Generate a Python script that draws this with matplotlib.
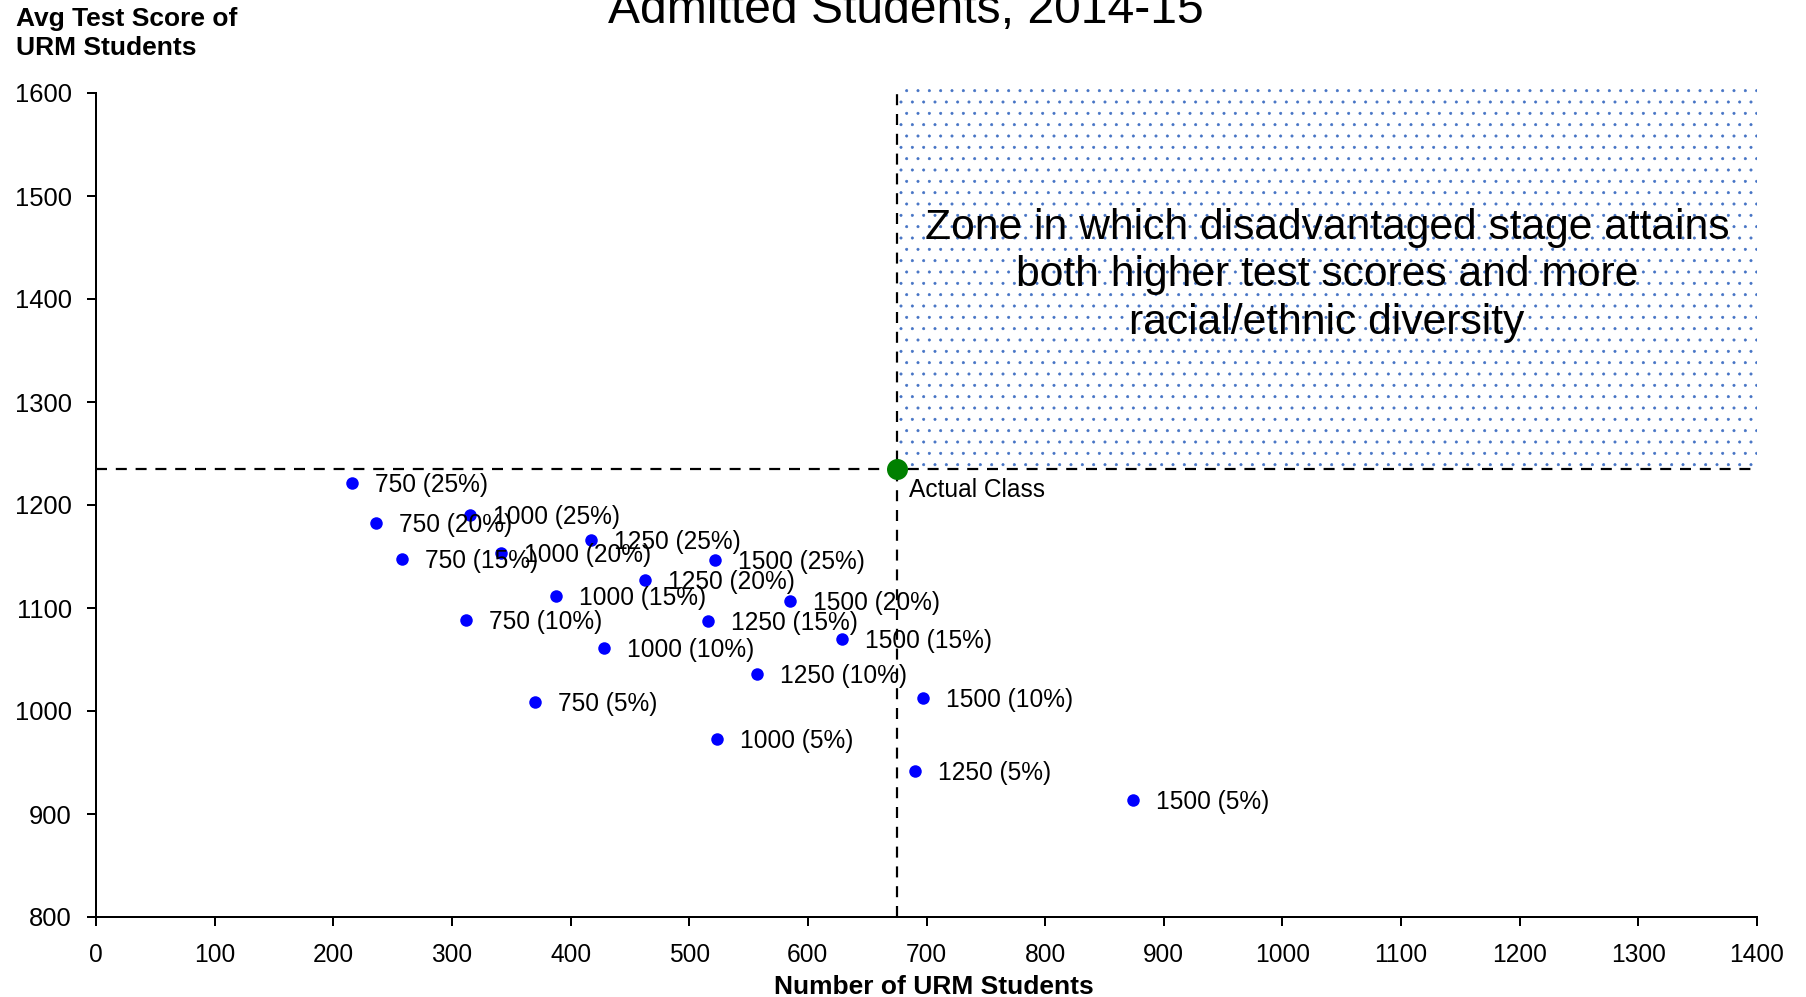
import matplotlib
matplotlib.use("Agg")
import matplotlib.pyplot as plt
from matplotlib.patches import Rectangle

DPI = 136
PX = 72.0 / DPI  # points per pixel

plt.rcParams["font.family"] = ["Liberation Sans", "DejaVu Sans"]
plt.rcParams["hatch.linewidth"] = 0.35

# Simulated admissions scenarios: class size and share reserved for the disadvantaged stage
class_sizes = [750, 750, 750, 750, 750,
               1000, 1000, 1000, 1000, 1000,
               1250, 1250, 1250, 1250, 1250,
               1500, 1500, 1500, 1500, 1500]
reserved_shares = [25, 20, 15, 10, 5,
                   25, 20, 15, 10, 5,
                   25, 20, 15, 10, 5,
                   25, 20, 15, 10, 5]
urm_counts = [216, 236, 258, 312, 370,
              315, 341, 388, 428, 523,
              417, 463, 516, 557, 690,
              522, 585, 629, 697, 874]
urm_scores = [1221, 1183, 1148, 1088, 1009,
              1190, 1153, 1112, 1061, 973,
              1166, 1127, 1087, 1036, 942,
              1147, 1107, 1070, 1013, 914]

actual_count = 675
actual_score = 1235

x_ticks = list(range(0, 1401, 100))
y_ticks = list(range(800, 1601, 100))

fig = plt.figure(figsize=(1806 / DPI, 997 / DPI), dpi=DPI)
ax = fig.add_axes([96 / 1806, 1 - 917 / 997, (1757 - 96) / 1806, (917 - 93) / 997])

ax.set_xlim(0, 1400)
ax.set_ylim(800, 1600)

# Zone above and to the right of the actual class
zone = Rectangle((actual_count, actual_score), 1400 - actual_count, 1606 - actual_score,
                 facecolor="none", edgecolor="#4472C4", linewidth=0, hatch="..",
                 zorder=0, clip_on=False)
ax.add_patch(zone)

dash = (0, (5, 4))
ax.plot([0, 1400], [actual_score, actual_score], color="black", lw=2.2 * PX,
        linestyle=dash, zorder=1)
ax.plot([actual_count, actual_count], [800, 1600], color="black", lw=2.2 * PX,
        linestyle=dash, zorder=1)

ax.scatter(urm_counts, urm_scores, s=(12.5 * PX) ** 2, color="#0000FF",
           linewidths=0, zorder=3)
for n, share, x, y in zip(class_sizes, reserved_shares, urm_counts, urm_scores):
    ax.annotate(f"{n} ({share}%)", (x, y), xytext=(23 * PX, -2 * PX),
                textcoords="offset points", ha="left", va="center",
                fontsize=24.5 * PX, color="black", zorder=4)

ax.scatter([actual_count], [actual_score], s=(21 * PX) ** 2, color="#008000",
           linewidths=0, zorder=5)
ax.annotate("Actual Class", (actual_count, actual_score), xytext=(12 * PX, -21 * PX),
            textcoords="offset points", ha="left", va="center",
            fontsize=24.5 * PX, color="black", zorder=5)

ax.text((actual_count + 1400) / 2, 1423,
        "Zone in which disadvantaged stage attains\nboth higher test scores and more\nracial/ethnic diversity",
        ha="center", va="center", multialignment="center", fontsize=42.6 * PX,
        linespacing=1.24, color="black", zorder=4)

for side in ("top", "right"):
    ax.spines[side].set_visible(False)
for side in ("left", "bottom"):
    ax.spines[side].set_linewidth(2 * PX)
    ax.spines[side].set_color("black")

ax.set_xticks(x_ticks)
ax.set_yticks(y_ticks)
ax.tick_params(axis="both", direction="out", length=9 * PX, width=2 * PX,
               colors="black")
ax.tick_params(axis="x", pad=9, labelsize=24.5 * PX)
ax.tick_params(axis="y", pad=8, labelsize=25.5 * PX)

fig.text(906 / 1806, 1 - 23 / 997, "Admitted Students, 2014-15", ha="center",
         va="baseline", fontsize=48 * PX, color="black")
fig.text(16 / 1806, 1 - 33.4 / 997, "Avg Test Score of\nURM Students", ha="left",
         va="center", fontsize=26.4 * PX, fontweight="bold", linespacing=1.24)
fig.text(933.5 / 1806, 1 - 994 / 997, "Number of URM Students", ha="center",
         va="baseline", fontsize=26.4 * PX, fontweight="bold")

fig.savefig("out.png", dpi=DPI, facecolor="white")
